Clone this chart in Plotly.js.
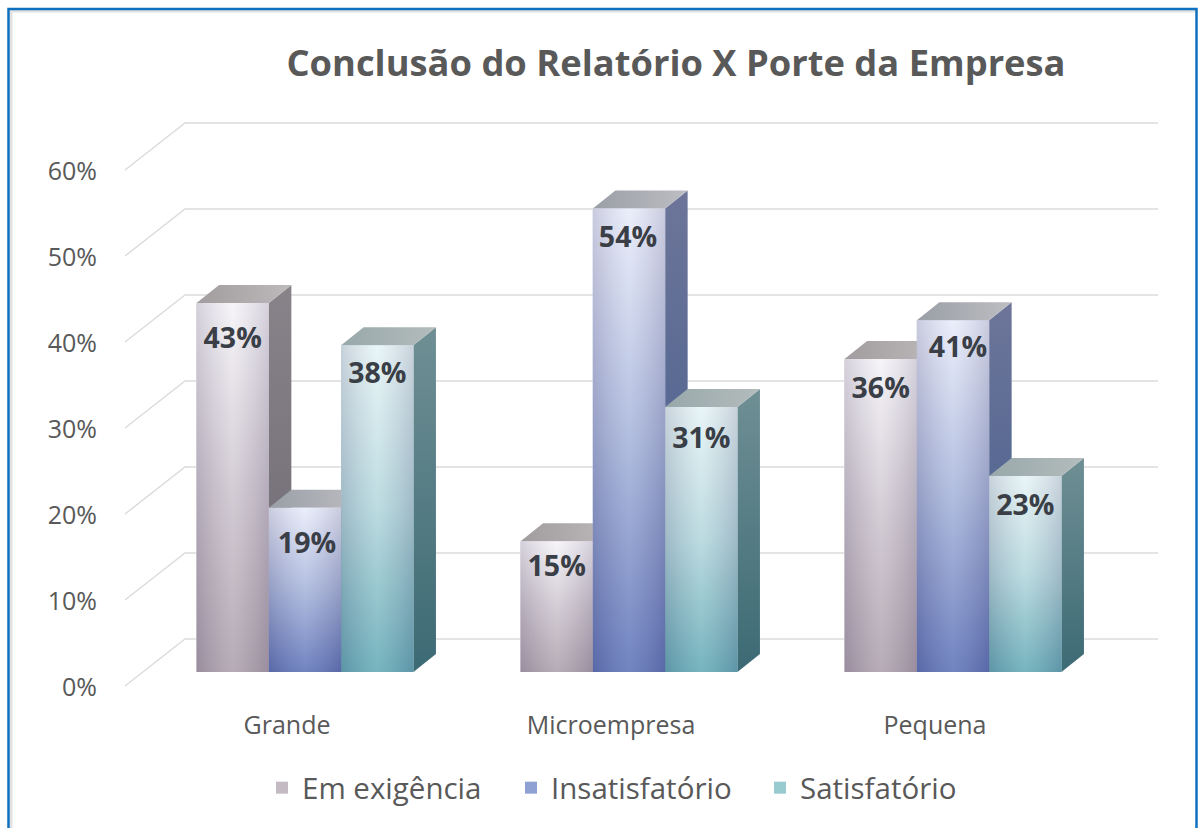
<!DOCTYPE html>
<html>
<head>
<meta charset="utf-8">
<script src="https://cdn.plot.ly/plotly-3.0.1.min.js"></script>
<style>html,body{margin:0;padding:0;background:#fff;overflow:hidden}#chart{width:1199px;height:828px}</style>
</head>
<body>
<div id="chart"></div>
<script>
// ---- data ----
const categories = ['Grande', 'Microempresa', 'Pequena'];
const emExigencia = [42.9, 15.2, 36.4];
const insatisfatorio = [19.1, 53.9, 40.9];
const satisfatorio = [38.0, 30.8, 22.8];
const seriesNames = ['Em exigência', 'Insatisfatório', 'Satisfatório'];
const axisTicks = [0, 10, 20, 30, 40, 50, 60];
const titleText = 'Conclusão do Relatório X Porte da Empresa';

// ---- geometry of the pseudo-3D projection (axis units) ----
const FONT = '"Open Sans", sans-serif';
const W = 1199, H = 828;
const mL = 105, mR = 24, mT = 100, mB = 128;
const plotW = W - mL - mR, plotH = H - mT - mB;
const pxPerX = 324, x0Px = 305, pxPerY = 8.6, y0Px = 672;
const xRange = [(mL - x0Px) / pxPerX, (W - mR - x0Px) / pxPerX];
const yRange = [(y0Px - (H - mB)) / pxPerY, (y0Px - mT) / pxPerY];
const barW = 72.3 / pxPerX;
const depthX = 22.5 / pxPerX, depthY = 18 / pxPerY;
const wallFrontX = (125 - x0Px) / pxPerX, wallBackX = (185 - x0Px) / pxPerX, gridEndX = (1158 - x0Px) / pxPerX;
const wallFrontY = -1.63, wallBackY = 3.85, tickLabelY = -1.75;
const tickOffsetX = -18 / pxPerX;

const seriesValues = [emExigencia, insatisfatorio, satisfatorio];
const labelDrop = [[4.45, 3.2, 3.7], [4.4, 3.65, 3.5], [3.55, 3.9, 3.75]];
const labelNudgePx = [[0, 0, 0], [2, -1, 5], [0, 0, 0]];
const legendColors = ['#c3bac4', '#8fa0d2', '#98cbd0'];
const frontStops = [
  [[0, '#ab9eaa'], [0.5, '#cdc5ce'], [1, '#f5f3f7']],
  [[0, '#5a70b6'], [0.5, '#a5b3da'], [1, '#e8ecfa']],
  [[0, '#60a8b4'], [0.5, '#b2d6dc'], [1, '#e6f4f6']]
];
const sideStops = [
  [[0, '#6d6870'], [1, '#878389']],
  [[0, '#3f5b8c'], [1, '#6d7599']],
  [[0, '#3c6a74'], [1, '#6f8f94']]
];
const topStops = [
  [[0, '#a19c9e'], [1, '#bdbabc']],
  [[0, '#9a9ea6'], [1, '#bdbec2']],
  [[0, '#98a8aa'], [1, '#b4bcbc']]
];
const edgeShade = [[0, 'rgba(80,70,110,0.20)'], [0.5, 'rgba(255,255,255,0.14)'], [1, 'rgba(80,70,110,0.20)']];

function poly(xs, ys, grad, orient) {
  return {
    type: 'scatter', mode: 'none', x: xs.concat(xs[0]), y: ys.concat(ys[0]), fill: 'toself',
    fillgradient: {type: orient, colorscale: grad},
    showlegend: false, hoverinfo: 'skip', cliponaxis: false
  };
}

const traces = [];

// Base bars, placed by Plotly's own grouping
seriesValues.forEach((vals, s) => {
  traces.push({
    type: 'bar', name: seriesNames[s], x: [0, 1, 2], y: vals,
    marker: {color: legendColors[s], line: {width: 0}}, hoverinfo: 'y'
  });
});

// Gridlines: side wall and back wall
const gx = [], gy = [];
axisTicks.forEach(v => {
  gx.push(wallFrontX, wallBackX, gridEndX, null);
  gy.push(v + wallFrontY, v + wallBackY, v + wallBackY, null);
});
traces.push({
  type: 'scatter', mode: 'lines', x: gx, y: gy, connectgaps: false,
  line: {color: '#dcdcdc', width: 1.5}, showlegend: false, hoverinfo: 'skip', cliponaxis: false
});

// Side, top and front faces
categories.forEach((c, g) => {
  seriesValues.forEach((vals, s) => {
    const v = vals[g];
    const left = g + (s - 1.5) * barW, right = left + barW;
    traces.push(poly([right, right + depthX, right + depthX, right], [0, depthY, v + depthY, v], sideStops[s], 'vertical'));
    traces.push(poly([left, right, right + depthX, left + depthX], [v, v, v + depthY, v + depthY], topStops[s], 'horizontal'));
    traces.push(poly([left, right, right, left], [0, 0, v, v], frontStops[s], 'vertical'));
    traces.push(poly([left, right, right, left], [0, 0, v, v], edgeShade, 'horizontal'));
  });
});

// Value labels
const lx = [], ly = [], lt = [];
categories.forEach((c, g) => seriesValues.forEach((vals, s) => {
  lx.push(g + (s - 1) * barW + labelNudgePx[s][g] / pxPerX);
  ly.push(vals[g] - labelDrop[s][g]);
  lt.push(Math.round(vals[g]) + '%');
}));
traces.push({
  type: 'scatter', mode: 'text', x: lx, y: ly, text: lt, textposition: 'middle center',
  textfont: {family: FONT, size: 28.5, color: '#3a3e46', weight: 700},
  showlegend: false, hoverinfo: 'skip', cliponaxis: false
});

const pxX = p => (p - mL) / plotW, pxY = p => 1 - (p - mT) / plotH;

const layout = {
  width: W, height: H,
  margin: {l: mL, r: mR, t: mT, b: mB, pad: 0},
  paper_bgcolor: '#ffffff', plot_bgcolor: 'rgba(0,0,0,0)',
  barmode: 'group', bargap: 1 - 3 * barW, bargroupgap: 0,
  title: {
    text: titleText, x: 676 / W, xref: 'container', xanchor: 'center',
    y: 1 - 63 / H, yref: 'container', yanchor: 'middle',
    font: {family: FONT, size: 36.3, color: '#595959', weight: 700}
  },
  xaxis: {
    range: xRange, showgrid: false, zeroline: false, showline: false,
    tickmode: 'array', tickvals: [0, 1, 2].map(i => i + tickOffsetX), ticktext: categories,
    ticks: 'outside', ticklen: 3, tickcolor: 'rgba(0,0,0,0)', tickfont: {family: FONT, size: 25, color: '#595959'}, automargin: false
  },
  yaxis: {
    range: yRange, showgrid: false, zeroline: false, showline: false,
    tickmode: 'array', tickvals: axisTicks.map(v => v + tickLabelY), ticktext: axisTicks.map(v => v + '%'),
    ticks: 'outside', ticklen: 2, tickcolor: 'rgba(0,0,0,0)', tickfont: {family: FONT, size: 25, color: '#595959'}, automargin: false
  },
  legend: {
    orientation: 'h', x: pxX(262), xanchor: 'left', xref: 'paper', y: 1 - 788 / H, yanchor: 'middle', yref: 'container',
    font: {family: FONT, size: 29.5, color: '#595959'}, entrywidth: 204, entrywidthmode: 'pixels',
    itemclick: false, itemdoubleclick: false, traceorder: 'normal', bgcolor: 'rgba(0,0,0,0)'
  },
  shapes: [
    {type: 'line', xref: 'paper', yref: 'paper', x0: pxX(11), x1: pxX(11), y0: pxY(860), y1: pxY(10),
     line: {color: '#e2e2e2', width: 3}, layer: 'below'},
    {type: 'line', xref: 'paper', yref: 'paper', x0: pxX(10), x1: pxX(1196), y0: pxY(11), y1: pxY(11),
     line: {color: '#e2e2e2', width: 3}, layer: 'below'},
    {type: 'rect', xref: 'paper', yref: 'paper', x0: pxX(8.5), x1: pxX(1196.5), y0: pxY(860), y1: pxY(9),
     line: {color: '#0f70c0', width: 2.5}, layer: 'below'}
  ],
  showlegend: true
};

Plotly.newPlot('chart', traces, layout, {displayModeBar: false, responsive: false});
</script>
</body>
</html>
